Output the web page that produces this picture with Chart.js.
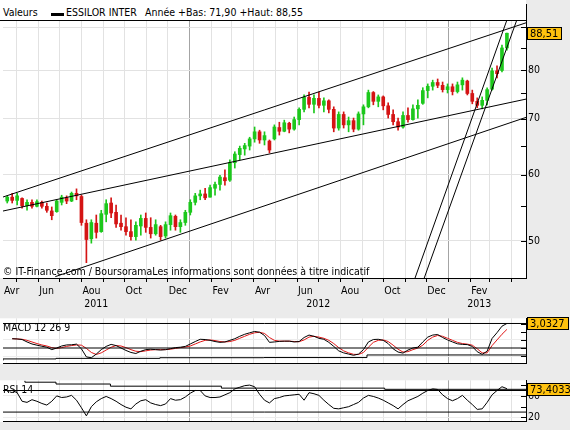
<!DOCTYPE html>
<html><head><meta charset="utf-8">
<script src="https://cdn.jsdelivr.net/npm/chart.js@4.4.1/dist/chart.umd.min.js"></script>
<style>
html,body{margin:0;padding:0;}
body{width:570px;height:430px;background:#ebebeb;position:relative;overflow:hidden;font-family:'DejaVu Sans Condensed','DejaVu Sans',sans-serif;font-size:10.5px;color:#000;}
#hdr{position:absolute;left:0;top:0;width:526px;height:20px;background:#fff;}
#hdrEdge{position:absolute;left:526px;top:4px;width:1px;height:17px;background:#000;}
.ht{position:absolute;top:6px;line-height:13px;white-space:nowrap;}
#dash{position:absolute;left:51px;top:13px;width:13px;height:3px;background:#000;}
canvas{position:absolute;left:0;}
</style></head>
<body>
<div id="hdr">
  <span class="ht" style="left:3px" id="h1"></span>
  <span id="dash"></span>
  <span class="ht" style="left:66px" id="h2"></span>
  <span class="ht" style="left:145px" id="h3"></span>
</div>
<div id="hdrEdge"></div>
<canvas id="cMain" width="570" height="312" style="top:0"></canvas>
<canvas id="cMacd" width="570" height="62" style="top:310px"></canvas>
<canvas id="cRsi" width="570" height="58" style="top:372px"></canvas>
<script>
// ---------- data (weekly) ----------
const seriesName = 'ESSILOR INTER';
const yearLow = '71,90', yearHigh = '88,55';
const weekStart = '2011-04-18';
const opens = [55.8,56.4,55.9,56.2,55.1,55.6,55.0,55.6,55.0,54.3, 54.2,55.6,56.3,55.8,57.0,56.5,52.5,50.3,52.5,51.3,
  53.8,55.5,54.1,52.5,52.0,51.3,50.6,52.1,53.2,51.9, 51.0,52.0,50.7,52.3,53.5,52.0,52.6,54.1,55.6,56.6,
  56.9,56.4,57.8,58.4,59.5,59.1,62.0,63.4,64.4,64.9, 66.2,67.5,66.0,65.8,66.2,68.3,67.6,69.1,68.0,69.8,
  71.8,74.2,72.8,74.0,72.6,73.5,71.8,68.2,70.8,68.8, 69.6,68.0,70.9,72.3,75.2,73.4,74.3,72.5,70.8,69.4,
  68.4,70.6,69.8,71.9,73.0,75.6,76.5,77.3,76.7,75.8, 76.4,75.4,76.8,77.6,75.0,73.4,72.6,73.6,75.9,79.8,
  79.9,85.0];
const closes = [56.4,55.9,56.6,55.1,55.6,55.0,55.7,55.0,54.4,53.6, 55.8,56.4,55.8,57.0,56.6,52.6,50.2,52.6,51.2,53.9,
  55.4,54.0,52.4,52.0,51.3,50.6,52.2,53.2,51.9,51.0, 52.3,50.6,52.3,53.6,52.0,52.6,54.1,55.6,56.6,56.9,
  56.3,57.9,58.4,59.6,59.0,62.0,63.5,64.5,65.0,66.2, 67.5,66.0,66.8,64.2,68.4,67.6,69.2,68.0,69.8,71.8,
  74.2,72.8,74.0,72.6,73.5,71.8,68.2,70.8,68.8,69.6, 68.0,70.9,72.3,75.2,73.4,74.3,72.5,70.8,69.4,68.4,
  70.6,69.8,71.9,72.6,75.6,76.5,77.3,76.7,75.8,76.4, 75.4,76.8,77.8,75.0,73.4,72.6,73.6,75.8,79.8,79.2,
  85.0,88.51];
const highs = [56.6,57.0,57.0,56.3,56.0,56.0,56.0,55.8,55.5,54.9, 56.0,56.7,56.6,57.2,57.7,56.7,53.0,53.0,53.7,54.4,
  56.0,56.3,55.2,53.7,53.3,53.0,52.7,53.7,54.0,53.3, 53.0,52.2,52.7,54.0,53.7,53.0,54.4,56.0,57.0,57.5,
  57.8,58.3,58.8,59.9,60.8,62.5,63.9,64.9,65.4,66.5, 68.4,67.8,67.5,66.0,68.8,69.3,69.7,69.3,70.3,72.1,
  74.7,75.3,74.7,75.3,74.1,73.7,72.3,71.3,71.3,70.3, 70.1,71.3,72.7,75.7,75.4,74.7,74.5,73.1,71.7,70.1,
  71.3,72.1,72.7,73.7,76.2,77.0,77.8,78.05,77.4,77.0, 77.0,77.4,78.3,77.8,75.7,74.1,74.3,76.2,80.4,80.9,
  85.7,88.55];
const lows = [55.5,55.5,55.2,54.7,54.4,54.7,54.9,54.7,54.1,53.0, 54.1,55.2,55.4,55.7,56.0,52.2,47.1,49.7,50.4,51.2,
  52.7,53.3,51.9,51.5,50.8,50.1,50.1,50.8,51.2,50.4, 50.8,50.1,50.4,51.5,51.5,51.2,52.2,53.7,55.2,56.0,
  56.0,56.4,56.7,57.5,58.3,58.9,61.1,62.5,63.3,64.2, 65.6,65.4,65.1,63.7,66.0,66.9,67.5,67.3,67.8,68.8,
  71.3,72.1,71.1,72.1,71.3,71.1,67.5,67.8,68.2,67.5, 67.5,67.8,68.8,72.1,72.7,72.3,71.7,70.1,68.8,67.8,
  68.2,69.3,69.7,70.1,72.8,74.1,75.7,76.2,75.3,75.1, 74.7,75.1,75.7,74.7,72.9,72.1,71.9,72.7,75.7,78.3,
  79.6,84.5];
const macd = [null,1.15,1.12,1.05,0.75,0.5,0.35,0.22,0.1,-0.2, 0.0,0.25,0.38,0.4,0.48,-0.1,-1.1,-1.2,-0.75,-0.2,
  0.2,0.45,0.3,0.0,-0.3,-0.55,-0.68,-0.4,-0.2,-0.15, -0.2,-0.25,-0.2,-0.08,0.05,0.1,0.2,0.5,0.8,1.08,
  1.05,0.95,0.8,0.7,0.75,0.95,1.15,1.45,1.7,1.88, 2.05,1.95,1.55,0.7,0.75,0.82,0.85,0.85,0.75,0.8,
  1.3,1.6,1.45,1.2,1.08,0.7,0.2,-0.35,-0.6,-0.75, -0.9,-0.75,-0.2,0.75,1.05,1.08,0.95,0.55,-0.1,-0.5,
  -0.63,-0.25,0.0,0.1,0.75,1.35,1.6,1.67,1.3,1.0, 0.75,0.52,0.45,0.42,0.2,-0.46,-0.78,-0.4,1.18,1.9,
  2.7,3.0327];
const signal = [null,1.15,1.12,1.08,0.95,0.75,0.55,0.38,0.25,0.05, -0.05,0.05,0.2,0.3,0.38,0.35,-0.05,-0.55,-0.8,-0.6,
  -0.25,0.1,0.3,0.25,0.05,-0.2,-0.4,-0.45,-0.35,-0.25, -0.2,-0.2,-0.2,-0.15,-0.05,0.05,0.12,0.25,0.5,0.75,
  0.95,1.0,0.92,0.8,0.75,0.8,0.95,1.2,1.45,1.7, 1.88,1.95,1.8,1.3,0.95,0.85,0.85,0.85,0.8,0.78,
  1.0,1.35,1.45,1.35,1.2,0.95,0.55,0.05,-0.35,-0.6, -0.78,-0.8,-0.55,0.1,0.7,0.95,1.0,0.8,0.35,-0.15,
  -0.5,-0.45,-0.2,0.0,0.35,0.95,1.35,1.55,1.45,1.2, 0.95,0.7,0.55,0.48,0.35,-0.1,-0.6,-0.6,0.3,1.0,
  1.7,2.3];
const rsi = [69,70,66,50,48,53,50,46,43,50, 60,57,58,61,52,38,23,40,49,55,
  59,55,50,44,39,36,45,51,53,47, 44,42,45,55,52,53,58,65,70,70,
  60,57,57,58,62,66,73,76,79,80, 77,63,52,47,55,57,60,61,62,63,
  52,66,64,61,52,44,37,36,38,40, 44,48,56,61,59,56,52,47,42,36,
  44,51,55,59,65,70,73,72,62,55, 51,55,61,52,44,35,36,48,62,70,
  77,73.4033];
// trend lines: [date, price] end points
const trendLines = [
  [['2011-04-12',56.42],['2013-04-21',91.08]],
  [['2011-04-12',54.29],['2013-04-21',73.85]],
  [['2011-06-25',45.33],['2013-04-21',70.23]],
  [['2012-11-15',45.16],['2013-03-25',91.79]],
  [['2012-11-28',45.16],['2013-04-08',91.79]]
];
const macdFloorDates = ['2011-04-12','2011-06-26','2011-11-20','2012-04-15','2012-09-08','2013-02-04','2013-04-21'];
const macdFloorVals = [-1.55,-1.35,-1.28,-1.2,-1.18,-0.86,-0.86];
const rsiTopDates = ['2011-05-13','2011-06-26','2011-09-11','2012-02-15','2012-10-03','2012-12-23','2013-04-21'];
const rsiTopVals = [88,85.4,82,78,74.4,72.2,72.2];
const rsiLevels = [30,70];
const monthNames = ['Jan','Fev','Mar','Avr','Mai','Jun','Jul','Aou','Sep','Oct','Nov','Dec'];
const yearLabels = ['2011','2012','2013'];
const yearLabelDates = ['2011-08-22','2012-07-01','2013-02-14'];
const priceTicks = [50,55,60,65,70,75,80,85,90];
const priceLabels = [50,60,70,80];
const macdTicks = [-1,0,1,2,3];
const rsiTicks = [20,40,60,80];

// ---------- helpers ----------
const FONT = "'DejaVu Sans Condensed','DejaVu Sans',sans-serif";
const FS = 10.5;
document.getElementById('h1').textContent = 'Valeurs';
document.getElementById('h2').textContent = seriesName;
document.getElementById('h3').textContent = 'Année +Bas: ' + yearLow + ' +Haut: ' + yearHigh;

const D0 = Date.UTC(2012,0,1);
const dayOf = s => (Date.parse(s) - D0) / 864e5;
const xMin = dayOf('2011-04-12'), xMax = dayOf('2013-04-21');
const w0 = dayOf(weekStart);
const xs = closes.map((_, i) => w0 + 7 * i);

const monthTicks = [{value: xMin, label: monthNames[new Date(xMin*864e5 + D0).getUTCMonth()], edge: true}];
for (let y = 2011; y <= 2013; y++) for (let m = 0; m < 12; m++) {
  const v = (Date.UTC(y, m, 1) - D0) / 864e5;
  if (v > xMin && v <= xMax) monthTicks.push({value: v, label: (m % 2 === 1 && v < xMax - 25) ? monthNames[m] : '', jan: m === 0});
}
const gridCol = (ctx) => { const t = monthTicks[ctx.index]; return !t || t.edge ? 'rgba(0,0,0,0)' : (t.jan ? '#a4a4a4' : '#e2e2e2'); };

function monthAxis(showLabels, height) {
  return {
    type: 'linear', min: xMin, max: xMax, offset: false, bounds: 'data',
    afterBuildTicks: s => { s.ticks = monthTicks.map(t => ({value: t.value})); },
    afterFit: s => { s.height = height; },
    grid: {color: gridCol, offset: false, drawTicks: showLabels, tickLength: 4,
      tickColor: ctx => (monthTicks[ctx.index] && monthTicks[ctx.index].edge) ? 'rgba(0,0,0,0)' : '#000'},
    border: {display: true, color: '#000', width: 1},
    ticks: {display: showLabels, autoSkip: false, maxRotation: 0, align: 'start', labelOffset: 1, padding: 3,
      color: '#000', font: {family: FONT, size: FS},
      callback: (v, i) => monthTicks[i] ? monthTicks[i].label : ''}
  };
}

const panelPlugin = {
  id: 'panel',
  beforeDraw(chart) {
    const {ctx, chartArea: a} = chart;
    ctx.save(); ctx.fillStyle = '#fff';
    ctx.fillRect(0, a.top, a.right, a.bottom - a.top);
    ctx.restore();
  },
  afterDraw(chart, args, o) {
    const {ctx, chartArea: a} = chart;
    const ys = chart.scales.y;
    ctx.save();
    ctx.strokeStyle = '#000'; ctx.lineWidth = 1;
    if (o.topBorder) { ctx.beginPath(); ctx.moveTo(0, a.top + 0.5); ctx.lineTo(a.right, a.top + 0.5); ctx.stroke(); }
    for (const v of o.marks) {
      const y = Math.round(ys.getPixelForValue(v)) + 0.5;
      ctx.beginPath(); ctx.moveTo(a.right - 5, y); ctx.lineTo(a.right, y); ctx.stroke();
    }
    ctx.fillStyle = '#000'; ctx.font = FS + 'px ' + FONT; ctx.textBaseline = 'alphabetic';
    if (o.title) ctx.fillText(o.title, 3, a.top + o.titleDy);
    if (o.foot) ctx.fillText(o.foot, 3, a.bottom + o.footDy);
    const vy = Math.round(ys.getPixelForValue(o.value));
    ctx.font = (FS + 0.5) + 'px ' + FONT;
    const w = Math.round(ctx.measureText(o.text).width) + 6;
    ctx.fillStyle = '#ffc20e';
    ctx.fillRect(527, vy - 6, w, 13);
    ctx.strokeRect(527.5, vy - 5.5, w, 12);
    ctx.fillStyle = '#000'; ctx.textBaseline = 'middle';
    ctx.fillText(o.text, 530, vy + 1);
    ctx.restore();
  }
};
const fmt = (v, d) => v.toFixed(d).replace('.', ',');
const colors = closes.map((c, i) => c >= opens[i] ? '#1cc81c' : '#d41414');
const flat = (vals, dates) => dates.map((d, i) => ({x: dayOf(d), y: vals[i]}));

// ---------- main price chart ----------
new Chart(document.getElementById('cMain'), {
  type: 'bar',
  data: {datasets: [
    ...trendLines.map(t => ({type: 'line', data: t.map(p => ({x: dayOf(p[0]), y: p[1]})),
      borderColor: '#000', borderWidth: 1, pointRadius: 0, tension: 0})),
    {type: 'bar', data: xs.map((x, i) => ({x, y: [opens[i], closes[i]]})), backgroundColor: colors,
      barThickness: 3, grouped: false},
    {type: 'bar', data: xs.map((x, i) => ({x, y: [lows[i], highs[i]]})), backgroundColor: colors,
      barThickness: 1, grouped: false}
  ]},
  options: {
    responsive: false, animation: false, devicePixelRatio: 1,
    layout: {padding: {left: 3, top: 20, right: 0, bottom: 0}},
    plugins: {legend: {display: false}, tooltip: {enabled: false},
      panel: {topBorder: true, marks: priceTicks, value: closes[closes.length - 1],
        text: fmt(closes[closes.length - 1], 2),
        foot: '© IT-Finance.com / BoursoramaLes informations sont données à titre indicatif', footDy: -3.5}},
    scales: {
      x: monthAxis(true, 19),
      yr: {type: 'linear', position: 'bottom', weight: 1, min: xMin, max: xMax, offset: false,
        afterBuildTicks: s => { s.ticks = yearLabelDates.map(d => ({value: dayOf(d)})); },
        afterFit: s => { s.height = 15; },
        grid: {display: false, drawTicks: false}, border: {display: false},
        ticks: {autoSkip: false, maxRotation: 0, padding: 1, color: '#000', font: {family: FONT, size: FS},
          callback: (v, i) => yearLabels[i]}},
      y: {type: 'logarithmic', position: 'right', min: 45.16, max: 91.79, bounds: 'data', beginAtZero: false,
        afterBuildTicks: s => { s.ticks = priceTicks.map(v => ({value: v})); },
        afterFit: s => { s.width = 44; },
        grid: {color: c => (c.tick && c.tick.value % 10 === 0) ? '#e2e2e2' : 'rgba(0,0,0,0)', drawTicks: false},
        border: {display: true, color: '#000'},
        ticks: {padding: 2, color: '#000', font: {family: FONT, size: FS},
          callback: v => (priceLabels.includes(v) ? String(v) : '')}}
    }
  },
  plugins: [panelPlugin]
});

// ---------- MACD ----------
new Chart(document.getElementById('cMacd'), {
  type: 'line',
  data: {datasets: [
    {data: flat([macd[macd.length-1], macd[macd.length-1]], ['2011-04-12','2013-04-21']), borderColor: '#000', borderWidth: 1, pointRadius: 0},
    {data: flat([0, 0], ['2011-04-12','2013-04-21']), borderColor: '#000', borderWidth: 1, pointRadius: 0},
    {data: flat(macdFloorVals, macdFloorDates), stepped: 'after', borderColor: '#000', borderWidth: 1, pointRadius: 0},
    {data: xs.map((x, i) => ({x, y: macd[i]})), borderColor: '#000', borderWidth: 1, pointRadius: 0, tension: 0},
    {data: xs.map((x, i) => ({x, y: signal[i]})), borderColor: '#e01818', borderWidth: 1, pointRadius: 0, tension: 0}
  ]},
  options: {
    responsive: false, animation: false, devicePixelRatio: 1,
    layout: {padding: {left: 3, top: 3, right: 0, bottom: 2}},
    plugins: {legend: {display: false}, tooltip: {enabled: false},
      panel: {marks: macdTicks, value: macd[macd.length - 1], text: fmt(macd[macd.length - 1], 4),
        title: 'MACD 12 26 9', titleDy: 12.5}},
    scales: {
      x: monthAxis(false, 0),
      y: {type: 'linear', position: 'right', min: -1.94, max: 3.675,
        afterBuildTicks: s => { s.ticks = macdTicks.map(v => ({value: v})); },
        afterFit: s => { s.width = 44; },
        grid: {color: '#ececec', drawTicks: false}, border: {display: true, color: '#000'},
        ticks: {padding: 2, color: '#000', font: {family: FONT, size: FS},
          callback: v => (v === 0 || v === 2 ? String(v) : '')}}
    }
  },
  plugins: [panelPlugin]
});

// ---------- RSI ----------
new Chart(document.getElementById('cRsi'), {
  type: 'line',
  data: {datasets: [
    ...rsiLevels.map(l => ({data: flat([l, l], ['2011-04-12','2013-04-21']), borderColor: '#000', borderWidth: 1, pointRadius: 0})),
    {data: flat(rsiTopVals, rsiTopDates), stepped: 'after', borderColor: '#000', borderWidth: 1, pointRadius: 0},
    {data: xs.map((x, i) => ({x, y: rsi[i]})), borderColor: '#000', borderWidth: 1, pointRadius: 0, tension: 0}
  ]},
  options: {
    responsive: false, animation: false, devicePixelRatio: 1,
    layout: {padding: {left: 3, top: 4, right: 0, bottom: 5}},
    plugins: {legend: {display: false}, tooltip: {enabled: false},
      panel: {marks: rsiTicks, value: rsi[rsi.length - 1], text: fmt(rsi[rsi.length - 1], 4),
        title: 'RSI 14', titleDy: 12.5}},
    scales: {
      x: monthAxis(false, 0),
      y: {type: 'linear', position: 'right', min: 12.2, max: 88.9,
        afterBuildTicks: s => { s.ticks = rsiTicks.map(v => ({value: v})); },
        afterFit: s => { s.width = 44; },
        grid: {color: '#ececec', drawTicks: false}, border: {display: true, color: '#000'},
        ticks: {padding: 2, color: '#000', font: {family: FONT, size: FS},
          callback: v => (v === 20 || v === 60 ? String(v) : '')}}
    }
  },
  plugins: [panelPlugin]
});
</script>
</body></html>
